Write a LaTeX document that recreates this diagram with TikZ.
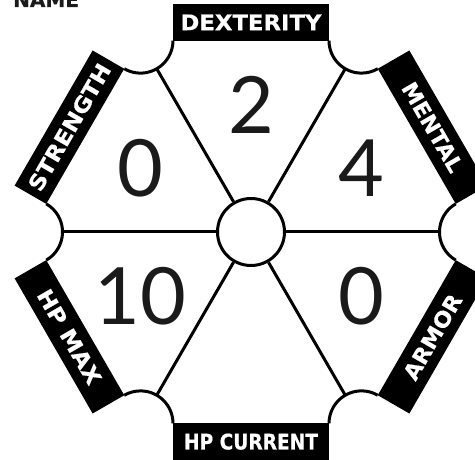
\documentclass[tikz,border=0pt]{standalone}
\usepackage{fontspec}
\usepackage{graphicx}
\newfontfamily\lblfont{DejaVu Sans}[BoldFeatures={FakeBold=0.6}]
\newfontfamily\numfont{Lato}
\definecolor{ink}{HTML}{1A1A1A}
\newsavebox\lblbox
\newcommand\fitto[2]{\sbox\lblbox{#2}\scalebox{\fpeval{#1/(\the\wd\lblbox)}}[1]{\usebox\lblbox}}
\begin{document}
\begin{tikzpicture}[x=1pt,y=1pt,
  edge/.style={line width=3pt},
  vtx/.style={circle,minimum size=65pt,inner sep=0pt,outer sep=0pt},
  hub/.style={circle,draw,line width=3pt,minimum size=67pt,inner sep=0pt,fill=white},
  banner/.style={fill=black,text=white,minimum width=156pt,minimum height=36.5pt,inner sep=0pt,
    font=\lblfont\bfseries\fontsize{21.5}{21.5}\selectfont},
  num/.style={text=ink,font=\numfont\fontsize{79}{79}\selectfont,inner sep=0pt},
  title/.style={text=ink,font=\lblfont\bfseries\fontsize{20}{20}\selectfont,inner sep=0pt}]
\useasboundingbox (0,0) rectangle (475,459);
\coordinate (C) at (251,227);
% vertex notches
\foreach \a in {0,60,...,300}
  \path (C) ++(\a:221) node[vtx] (v\a) {};
\foreach \a in {0,60,...,300}
  \draw[edge] ([shift={(\a+120:32.5)}]v\a.center) arc[start angle=\a+120, delta angle=120, radius=32.5];
% hub and spokes
\node[hub] (hub) at (C) {};
\foreach \a in {0,60,...,300}
  \draw[edge] (hub) -- (v\a);
% banners
\foreach \m/\rot/\w/\txt in {90/0/141/DEXTERITY,150/60/143/STRENGTH,30/-60/100/MENTAL,270/0/134/HP CURRENT,210/-60/106/HP MAX,330/60/95/ARMOR}
  \path (C) ++(\m:209.65) node[banner,rotate=\rot] (b\m) {\fitto{\w}{\txt}};
% numbers
\path (C) ++(90:127.6) node[num] (n90) {2};
\path (C) ++(150:127.6) node[num] (n150) {0};
\path (C) ++(30:127.6) node[num] (n30) {4};
\path (C) ++(210:127.6) node[num] (n210) {10};
\path (C) ++(330:127.6) node[num] (n330) {0};
% title
\node[title,anchor=base west] (name) at (13,452) {NAME};
\end{tikzpicture}
\end{document}
